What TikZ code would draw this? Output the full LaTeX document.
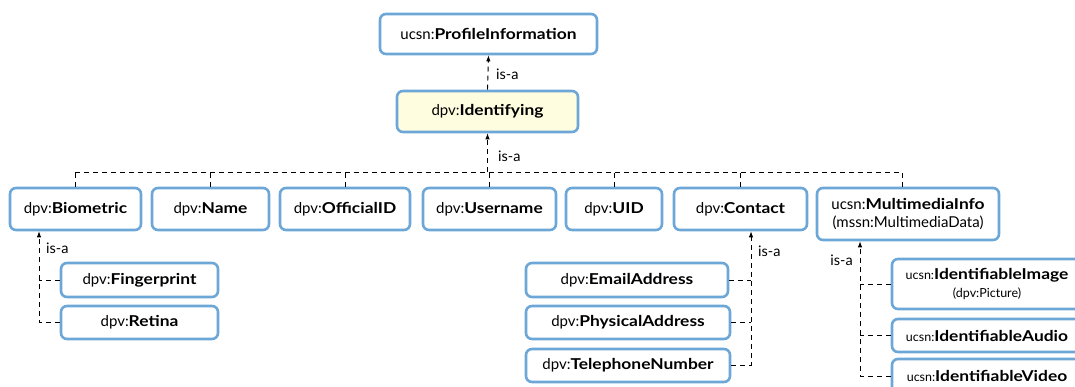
\documentclass[tikz,border=0pt]{standalone}
\usepackage{fontspec}
\setmainfont{Lato}[BoldFeatures={FakeStretch=1.16}]
\usetikzlibrary{arrows.meta}
\definecolor{bl}{RGB}{108,167,216}
\definecolor{yl}{RGB}{255,253,224}
\newcommand{\smtxt}[1]{{\fontsize{12.5}{15}\selectfont #1}}
\tikzset{
  box/.style={draw=bl, line width=2.6pt, rounded corners=6pt, fill=white, inner sep=0pt, align=center, font=\fontsize{15}{18}\selectfont},
  conn/.style={draw=black, line width=0.9pt, dash pattern=on 5pt off 4pt},
  isa/.style={conn, -{Latex[length=6pt,width=4.5pt]}},
  lbl/.style={font=\fontsize{14.5}{16}\selectfont, inner sep=0pt},
}
\begin{document}
\begin{tikzpicture}[x=1pt,y=1pt]
\useasboundingbox (0,0) rectangle (1075,-387);
\clip (0,0) rectangle (1075,-387);
% top
\node[box, minimum width=217, minimum height=40] (prof) at (488.5,-34) {ucsn:\textbf{ProfileInformation}};
\node[box, fill=yl, minimum width=181, minimum height=41] (ident) at (487.5,-111.5) {dpv:\textbf{Identifying}};
% row
\node[box, minimum width=131, minimum height=42] (bio) at (75.5,-209) {dpv:\textbf{Biometric}};
\node[box, minimum width=117, minimum height=42] (name) at (210.5,-209) {dpv:\textbf{Name}};
\node[box, minimum width=130, minimum height=42] (offid) at (345,-209) {dpv:\textbf{OfficialID}};
\node[box, minimum width=133, minimum height=42] (user) at (489.5,-209) {dpv:\textbf{Username}};
\node[box, minimum width=96, minimum height=42] (uid) at (614,-209) {dpv:\textbf{UID}};
\node[box, minimum width=133, minimum height=42] (cont) at (740.5,-209) {dpv:\textbf{Contact}};
\node[box, minimum width=182, minimum height=52] (multi) at (908,-214) {ucsn:\textbf{MultimediaInfo}\\(mssn:MultimediaData)};
% biometric children
\node[box, minimum width=157, minimum height=34] (fp) at (139.5,-280) {dpv:\textbf{Fingerprint}};
\node[box, minimum width=157, minimum height=33] (ret) at (139.5,-322.5) {dpv:\textbf{Retina}};
% contact children
\node[box, minimum width=202, minimum height=34] (email) at (627,-280) {dpv:\textbf{EmailAddress}};
\node[box, minimum width=204, minimum height=33] (phys) at (628,-322.5) {dpv:\textbf{PhysicalAddress}};
\node[box, minimum width=204, minimum height=33] (tel) at (628,-365.5) {dpv:\textbf{TelephoneNumber}};
% multimedia children
\node[box, minimum width=190, minimum height=50] (img) at (987,-284) {\smtxt{ucsn:}\textbf{IdentifiableImage}\\\smtxt{(dpv:Picture)}};
\node[box, minimum width=190, minimum height=33] (aud) at (987,-335.5) {\smtxt{ucsn:}\textbf{IdentifiableAudio}};
\node[box, minimum width=190, minimum height=34] (vid) at (987,-376) {\smtxt{ucsn:}\textbf{IdentifiableVideo}};
% connectors top
\draw[isa] (ident.north) -- (prof.south);
\node[lbl, anchor=west] (l1) at (496,-74) {is-a};
\coordinate (busL) at (75,-172);
\coordinate (busR) at (902,-172);
\draw[conn] (busL) -- (busR);
\draw[conn] (bio.north -| busL) -- (busL);
\draw[conn] (name.north) -- (name.north |- busL);
\draw[conn] (offid.north) -- (offid.north |- busL);
\draw[conn] (user.north) -- (user.north |- busL);
\draw[conn] (uid.north) -- (uid.north |- busL);
\draw[conn] (cont.north) -- (cont.north |- busL);
\draw[conn] (multi.north -| busR) -- (busR);
\draw[isa] (ident.south |- busL) -- (ident.south);
\node[lbl, anchor=west] (l2) at (498,-156) {is-a};
% biometric
\coordinate (bv) at (39,0);
\draw[isa] (ret.west) -| (bv |- bio.south);
\draw[conn] (fp.west) -- (fp.west -| bv);
\node[lbl, anchor=west] (l3) at (46,-248) {is-a};
% contact
\coordinate (cv) at (751,0);
\draw[isa] (tel.east) -| (cv |- cont.south);
\draw[conn] (email.east) -- (email.east -| cv);
\draw[conn] (phys.east) -- (phys.east -| cv);
\node[lbl, anchor=west] (l4) at (758,-251) {is-a};
% multimedia
\coordinate (mv) at (860,0);
\draw[isa] (vid.west) -| (mv |- multi.south);
\draw[conn] (img.west) -- (img.west -| mv);
\draw[conn] (aud.west) -- (aud.west -| mv);
\node[lbl, anchor=east] (l5) at (853,-260) {is-a};
\end{tikzpicture}
\end{document}
